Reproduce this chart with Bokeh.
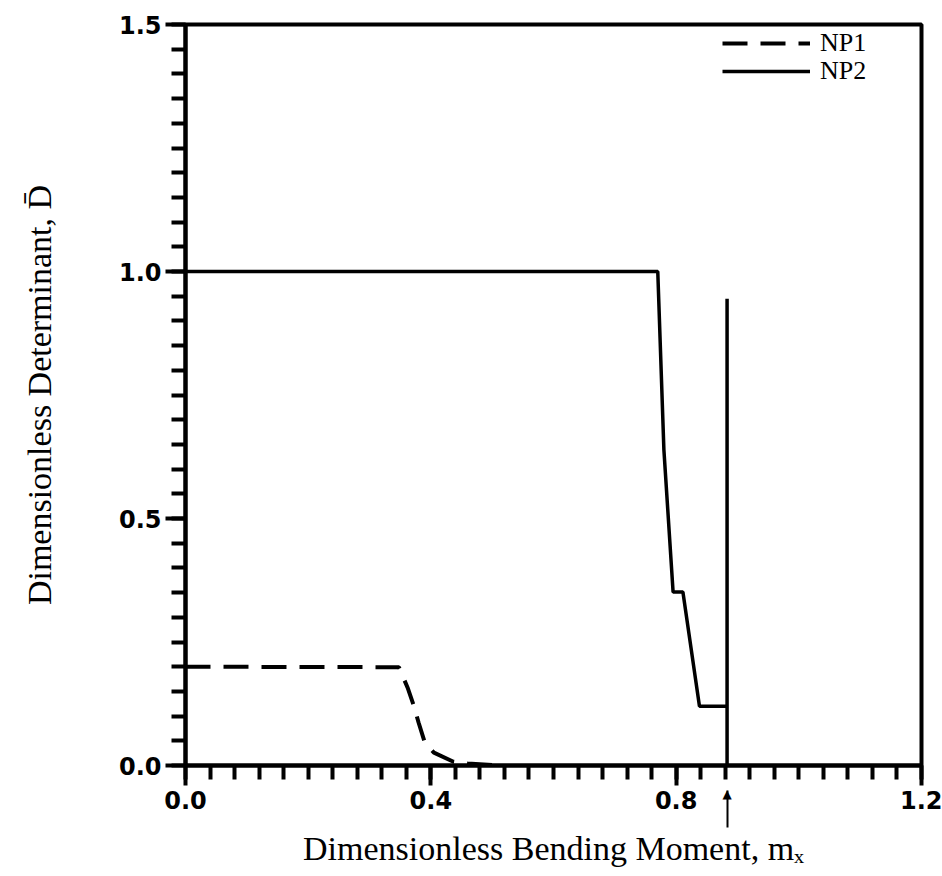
import numpy as np
from bokeh.plotting import figure
from bokeh.models import (FixedTicker, NumeralTickFormatter, Legend, LegendItem, LinearAxis)
from bokeh.embed import file_html
from bokeh.resources import INLINE

# ---- data ----
np1_x = [0.0, 0.348, 0.362, 0.372, 0.380, 0.390, 0.405, 0.436, 0.460, 0.514]
np1_y = [0.2, 0.199, 0.158, 0.122, 0.087, 0.047, 0.026, 0.008, 0.004, 0.0]

np2_x = [0.0, 0.770, 0.780, 0.795, 0.811, 0.838, 0.883, 0.883, 0.883]
np2_y = [1.0, 1.0, 0.639, 0.351, 0.351, 0.120, 0.120, 0.0, 0.945]

critical_moment = 0.883

x_ticks = [0.0, 0.4, 0.8, 1.2]
y_ticks = [0.0, 0.5, 1.0, 1.5]
x_minor_step = 0.04
y_minor_step = 0.05

x_label = "Dimensionless Bending Moment, m\u2093"
y_label = "Dimensionless Determinant, D\u0304"
series_names = ["NP1", "NP2"]
arrow_head_text = "\u25b2"

p = figure(width=942, height=876, x_range=(0, 1.2), y_range=(0, 1.5),
           output_backend="svg", toolbar_location=None,
           min_border_left=185, min_border_right=21, min_border_top=24, min_border_bottom=111)

p.grid.visible = False
p.background_fill_color = "white"
p.border_fill_color = "white"
p.outline_line_color = "black"
p.outline_line_width = 4
p.outline_line_alpha = 1

r1 = p.line(np1_x, np1_y, line_color="black", line_width=4, line_dash="25 13")
r2 = p.line(np2_x, np2_y, line_color="black", line_width=3.5)

for ax in (p.xaxis[0], p.yaxis[0]):
    ax.axis_line_width = 4
    ax.major_tick_line_width = 4
    ax.minor_tick_line_width = 4
    ax.major_tick_out = 20
    ax.major_tick_in = 0
    ax.minor_tick_out = 14
    ax.minor_tick_in = 0
    ax.major_label_text_font = "DejaVu Sans"
    ax.major_label_text_font_style = "bold"
    ax.major_label_text_font_size = "24px"
    ax.major_label_text_color = "black"
    ax.axis_label_text_font = "Liberation Serif"
    ax.axis_label_text_font_style = "normal"
    ax.axis_label_text_font_size = "34px"
    ax.axis_label_text_color = "black"
    ax.formatter = NumeralTickFormatter(format="0.0")

x_minor = list(np.round(np.arange(x_ticks[0], x_ticks[-1] + 1e-9, x_minor_step), 3))
y_minor = list(np.round(np.arange(y_ticks[0], y_ticks[-1] + 1e-9, y_minor_step), 3))
p.xaxis[0].ticker = FixedTicker(ticks=x_ticks, minor_ticks=x_minor)
p.yaxis[0].ticker = FixedTicker(ticks=y_ticks, minor_ticks=y_minor)
p.yaxis[0].axis_label = y_label
p.xaxis[0].major_label_standoff = 5
p.yaxis[0].major_label_standoff = 4
p.yaxis[0].axis_label_standoff = 58

# second bottom axis: a single tick at the critical moment draws the arrow,
# and it carries the x-axis title
arrow_axis = LinearAxis(ticker=FixedTicker(ticks=[critical_moment], minor_ticks=[]),
                        axis_label=x_label,
                        axis_line_color=None,
                        major_tick_in=21, major_tick_out=16,
                        major_tick_line_width=2, major_tick_line_color="black",
                        minor_tick_line_color=None,
                        major_label_overrides={critical_moment: arrow_head_text},
                        major_label_standoff=-41,
                        major_label_text_font="DejaVu Sans",
                        major_label_text_font_size="12px",
                        major_label_text_color="black",
                        axis_label_standoff=26,
                        axis_label_text_font="Liberation Serif",
                        axis_label_text_font_style="normal",
                        axis_label_text_font_size="34px",
                        axis_label_text_color="black")
p.add_layout(arrow_axis, "below")

legend_style = dict(padding=0, spacing=0, margin=0,
                    glyph_width=88, glyph_height=20, label_height=20, label_standoff=10,
                    label_text_font="Liberation Serif", label_text_font_size="26px",
                    label_text_color="black",
                    border_line_color=None, background_fill_alpha=0)
legend1 = Legend(items=[LegendItem(label=series_names[0], renderers=[r1])],
                 location=(537, 707), **legend_style)
legend2 = Legend(items=[LegendItem(label=series_names[1], renderers=[r2])],
                 location=(537, 679), **legend_style)
p.add_layout(legend1, "center")
p.add_layout(legend2, "center")

open("out.html", "w").write(file_html(p, INLINE))
